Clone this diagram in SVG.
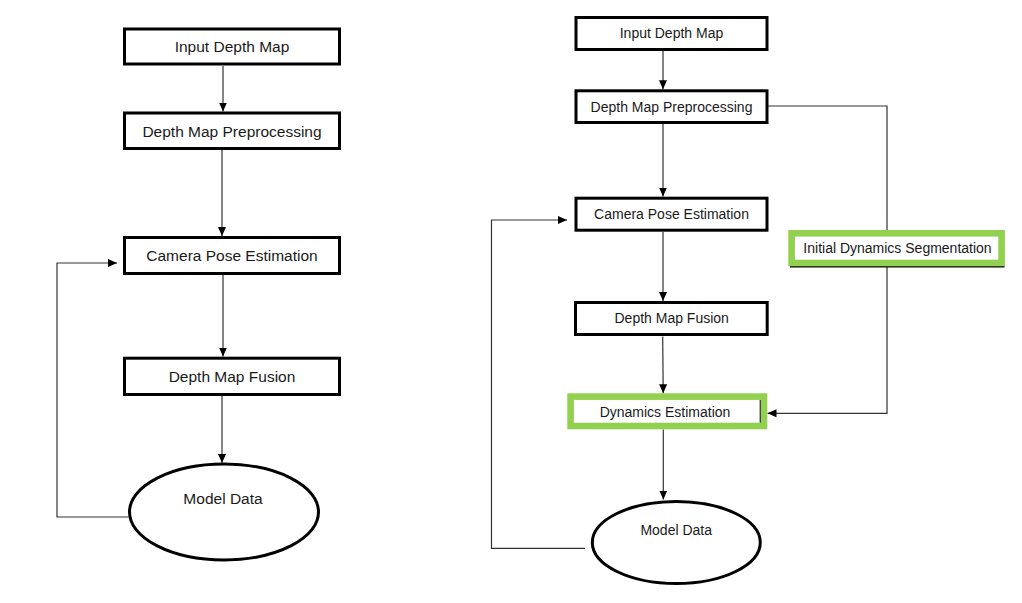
<svg xmlns="http://www.w3.org/2000/svg" width="1022" height="603" viewBox="0 0 1022 603">
<style>
.box{fill:#fff;stroke:#000;stroke-width:3}
.gbox{fill:#fff;stroke:#92D050;stroke-width:6.6}
.ell{fill:#fff;stroke:#000;stroke-width:3}
.t{font-family:"Liberation Sans",Arial,sans-serif;fill:#1a1a1a;text-anchor:middle}
.tl{font-size:15.5px}
.tr{font-size:14px}
.c{fill:none;stroke:#333;stroke-width:1.2}
.ca{marker-end:url(#ah)}
</style>
<defs>
<marker id="ah" markerUnits="userSpaceOnUse" markerWidth="9" markerHeight="8" refX="9" refY="4" orient="auto">
<path d="M0,0 L9,4 L0,8 z" fill="#000"/>
</marker>
</defs>
<rect width="1022" height="603" fill="#fff"/>
<g id="connectors">
<path class="c ca" d="M223,66 V111.5"/>
<path class="c ca" d="M222,150 V236"/>
<path class="c ca" d="M223,275 V356.5"/>
<path class="c ca" d="M222,396 V463"/>
<path class="c ca" d="M128,517 H57 V263 H117"/>
<path class="c ca" d="M663,51 V89.3"/>
<path class="c ca" d="M663,124 V196.5"/>
<path class="c ca" d="M663,232 V301"/>
<path class="c ca" d="M662.7,336.5 L663.2,393.3"/>
<path class="c ca" d="M663.3,429.5 V499.5"/>
<path class="c" d="M768,106 H887 V230"/>
<path class="c ca" d="M887,266 V413.3 H767.5"/>
<path class="c ca" d="M585,548.3 H491.5 V220 H567"/>
</g>
<g id="l-input">
<rect class="box" x="124.5" y="29" width="215" height="35"/>
<text class="t tl" x="232" y="52">Input Depth Map</text>
</g>
<g id="l-preproc">
<rect class="box" x="124.5" y="113" width="215" height="35.5"/>
<text class="t tl" x="232" y="137">Depth Map Preprocessing</text>
</g>
<g id="l-camera">
<rect class="box" x="124.5" y="237.5" width="215" height="36"/>
<text class="t tl" x="232" y="260.5">Camera Pose Estimation</text>
</g>
<g id="l-fusion">
<rect class="box" x="124.5" y="358.2" width="215" height="36.3"/>
<text class="t tl" x="232" y="381.5">Depth Map Fusion</text>
</g>
<g id="l-model">
<ellipse class="ell" cx="224" cy="512" rx="94.5" ry="48"/>
<text class="t tl" x="223" y="503.5">Model Data</text>
</g>
<g id="r-input">
<rect class="box" x="576" y="17.5" width="191" height="32"/>
<text class="t tr" x="671.5" y="38.3">Input Depth Map</text>
</g>
<g id="r-preproc">
<rect class="box" x="576" y="90.8" width="191" height="31.7"/>
<text class="t tr" x="671.5" y="111.7">Depth Map Preprocessing</text>
</g>
<g id="r-camera">
<rect class="box" x="576" y="198.2" width="191" height="32"/>
<text class="t tr" x="671.5" y="219">Camera Pose Estimation</text>
</g>
<g id="r-fusion">
<rect class="box" x="575.5" y="302.5" width="191.7" height="32"/>
<text class="t tr" x="671.7" y="323.3">Depth Map Fusion</text>
</g>
<g id="r-dynamics">
<rect class="gbox" x="570.6" y="396.6" width="193.4" height="29.4"/>
<line x1="760.2" y1="400" x2="760.2" y2="422.7" stroke="#000" stroke-width="1"/>
<text class="t tr" x="665" y="417.3">Dynamics Estimation</text>
</g>
<g id="r-initial">
<line x1="790" y1="266.8" x2="1004.5" y2="266.8" stroke="#000" stroke-width="1.5"/>
<rect class="gbox" x="791.6" y="233.3" width="210" height="29.7"/>
<text class="t tr" x="897.5" y="253.3">Initial Dynamics Segmentation</text>
</g>
<g id="r-model">
<ellipse class="ell" cx="676.3" cy="542.5" rx="84" ry="41"/>
<text class="t tr" x="676.2" y="535">Model Data</text>
</g>
</svg>
